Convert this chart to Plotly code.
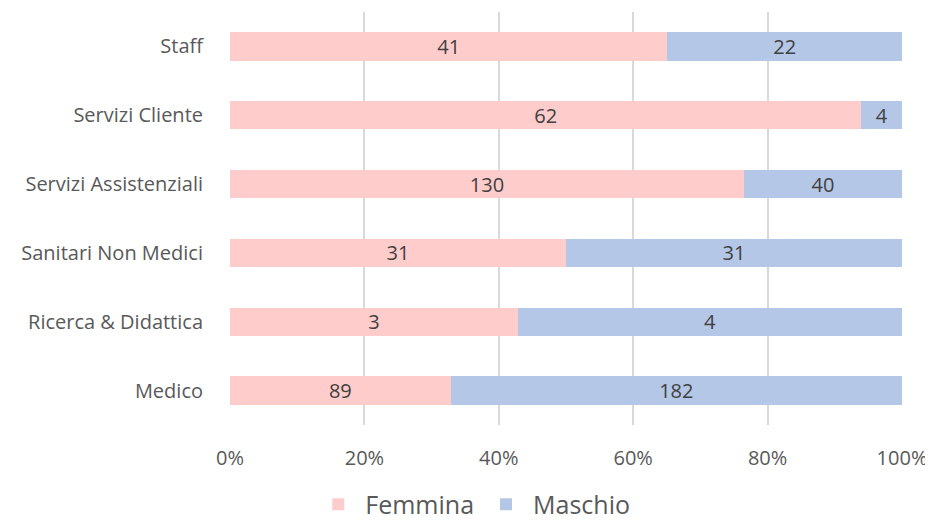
import plotly.graph_objects as go

categories = ["Medico", "Ricerca & Didattica", "Sanitari Non Medici",
              "Servizi Assistenziali", "Servizi Cliente", "Staff"]
femmina = [89, 3, 31, 130, 62, 41]
maschio = [182, 4, 31, 40, 4, 22]
tick_vals = [0, 20, 40, 60, 80, 100]
tick_text = ["0%", "20%", "40%", "60%", "80%", "100%"]

FONT = "Open Sans, Lato, sans-serif"
TXT = "#595959"
FS = 20

fig = go.Figure()
for name, vals, col in [("Femmina", femmina, "#FFCCCC"), ("Maschio", maschio, "#B4C7E7")]:
    fig.add_trace(go.Bar(
        y=categories, x=vals, name=name, orientation="h",
        marker=dict(color=col, line=dict(width=0)),
        text=vals, textposition="inside", insidetextanchor="middle", textangle=0,
        constraintext="none",
        textfont=dict(color="#404040", size=FS, family=FONT),
        hoverinfo="skip",
    ))

fig.update_layout(
    width=933, height=527,
    barmode="stack", barnorm="percent", bargap=0.59,
    paper_bgcolor="white", plot_bgcolor="white",
    margin=dict(l=222, r=39, t=4, b=110, pad=0, autoexpand=False),
    font=dict(family=FONT, color=TXT, size=FS),
    uniformtext=dict(mode="show", minsize=FS),
    showlegend=True,
    legend=dict(orientation="h", x=0.362, xanchor="center",
                yref="container", y=0.058, yanchor="middle",
                font=dict(size=25, color=TXT, family=FONT), traceorder="normal",
                itemwidth=44),
    xaxis=dict(range=[0, 100], tickvals=tick_vals, ticktext=tick_text,
               showgrid=True, gridcolor="#D9D9D9", gridwidth=1.5,
               zeroline=False, showline=False,
               ticks="outside", ticklen=15, tickcolor="rgba(0,0,0,0)",
               tickfont=dict(size=FS, color=TXT, family=FONT)),
    yaxis=dict(range=[-0.5, 5.5], showgrid=False, zeroline=False, showline=False,
               ticks="outside", ticklen=22, tickcolor="rgba(0,0,0,0)",
               tickfont=dict(size=FS, color=TXT, family=FONT)),
)

fig.write_html("out.html")
